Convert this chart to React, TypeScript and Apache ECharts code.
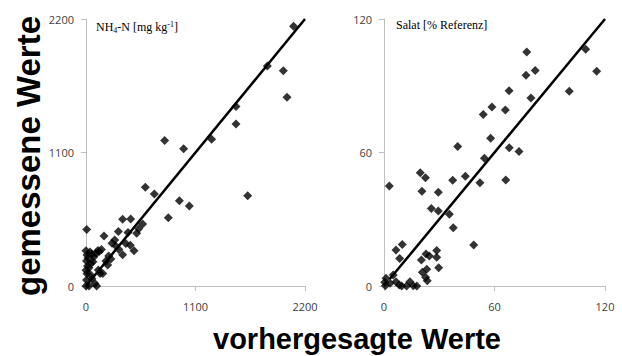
import React, { useEffect, useRef } from "react";
import * as echarts from "echarts";

// Left panel: NH4-N [mg kg-1] (predicted, measured)
const nh4Points: number[][] = [
  [2085, 2140], [1822, 1813], [1982, 1774], [2019, 1555], [1507, 1478], [1507, 1335],
  [1262, 1209], [790, 1198], [981, 1131], [686, 758], [596, 813], [938, 703],
  [1038, 659], [1624, 743], [827, 563],
  [7, 465], [368, 551], [449, 552], [569, 511], [530, 472], [509, 434], [422, 440],
  [325, 450], [181, 412], [288, 379], [261, 352], [445, 336], [482, 290], [368, 258],
  [228, 247], [131, 283], [218, 173], [141, 104], [107, 0], [30, 0],
  [0, 0], [5, 50], [10, 100], [0, 130], [15, 165], [5, 205], [20, 230], [10, 255],
  [40, 280], [60, 262], [80, 240], [100, 270], [120, 292], [70, 200], [124, 132],
  [168, 104], [40, 96], [60, 60], [90, 20], [30, 150], [50, 185], [0, 290],
  [155, 300], [200, 205], [250, 222], [330, 300], [300, 330], [400, 350]
];
const nh4Fit: number[][] = [[0, 0], [2200, 2200]];
const nh4Ticks = [0, 1100, 2200];

// Right panel: Salat [% Referenz] (predicted, measured)
const salatPoints: number[][] = [
  [77.5, 105.2], [109.5, 106.4], [115.5, 96.5], [82.1, 96.9], [77.1, 94.7],
  [100.6, 87.5], [67.9, 87.8], [79.8, 84.5], [58.6, 80.5], [53.9, 77.1], [65.9, 79.1],
  [57.9, 66.4], [68, 62.1], [73.3, 60.4], [54.5, 57.4], [40, 62.7], [44.2, 49.3],
  [37.3, 47.5], [66.1, 47.6], [19.7, 50.9], [22.5, 48.6], [2.9, 44.9], [52.1, 46.4],
  [20.6, 42.6], [29.5, 42.1], [25.7, 34.8], [29.5, 33.7], [35.5, 32.2], [37.6, 26.2],
  [48.7, 18.4], [6.5, 16.2], [9.9, 18.7], [8.5, 12.4], [20.3, 11.7], [22.8, 14.4],
  [24.6, 13.5], [28.6, 15.9], [28.6, 12.9], [29.7, 8.2], [23.2, 7.5], [20.8, 6.2],
  [22.6, 3.9], [23.5, 2.4], [5, 4.9], [1.1, 3.5], [0.4, 1.7], [0.7, 0.1], [6.5, 1.9],
  [8.3, 0.4], [9.6, 0], [14.1, 1.9], [12.3, 0], [15.9, 0.1], [17.8, 0], [3.3, 1.2]
];
const salatFit: number[][] = [[3, 3], [120, 120]];
const salatTicks = [0, 60, 120];

const yTitle = "gemessene Werte";
const xTitle = "vorhergesagte Werte";

const axisGray = "#bfbfbf";
const labelColor = "#404040";

function makeAxis(gridIndex: number, ticks: number[], isY: boolean) {
  const max = ticks[ticks.length - 1];
  return {
    type: "value",
    gridIndex,
    min: 0,
    max,
    interval: ticks[1] - ticks[0],
    splitLine: { show: false },
    axisLine: { show: true, onZero: false, lineStyle: { color: axisGray, width: 1 } },
    axisTick: { show: true, inside: false, length: 5, lineStyle: { color: axisGray } },
    axisLabel: {
      color: labelColor,
      fontFamily: "Open Sans",
      fontSize: 11,
      margin: isY ? 12 : 15,
      formatter: (v: number) => String(v),
    },
  };
}

export default function App() {
  const ref = useRef<HTMLDivElement>(null);
  useEffect(() => {
    if (!ref.current) return;
    const chart = echarts.init(ref.current, null, { renderer: "svg" });
    const scatterStyle = {
      type: "scatter",
      symbol: "diamond",
      symbolSize: 9,
      itemStyle: { color: "#000" },
    };
    const lineStyle = {
      type: "line",
      symbol: "none",
      lineStyle: { color: "#000", width: 2.5 },
      clip: false,
      z: 3,
    };
    chart.setOption({
      animation: false,
      backgroundColor: "#fff",
      grid: [
        { left: 86, top: 19, width: 219, height: 267 },
        { left: 384, top: 19, width: 221, height: 267 },
      ],
      xAxis: [makeAxis(0, nh4Ticks, false), makeAxis(1, salatTicks, false)],
      yAxis: [makeAxis(0, nh4Ticks, true), makeAxis(1, salatTicks, true)],
      series: [
        { ...scatterStyle, xAxisIndex: 0, yAxisIndex: 0, data: nh4Points },
        { ...lineStyle, xAxisIndex: 0, yAxisIndex: 0, data: nh4Fit },
        { ...scatterStyle, xAxisIndex: 1, yAxisIndex: 1, data: salatPoints },
        { ...lineStyle, xAxisIndex: 1, yAxisIndex: 1, data: salatFit },
      ],
      graphic: [
        {
          type: "text",
          x: 96,
          y: 20,
          style: {
            text: "NH{sub|4}-N [mg kg{sup|-1}]",
            fontFamily: "Liberation Serif",
            fontSize: 12,
            fill: "#000",
            rich: {
              sub: { fontSize: 8, verticalAlign: "bottom", padding: [6, 0, 0, 0], fontFamily: "Liberation Serif" },
              sup: { fontSize: 8, verticalAlign: "top", padding: [0, 0, 6, 0], fontFamily: "Liberation Serif" },
            },
          },
        },
        {
          type: "text",
          x: 396,
          y: 19,
          style: {
            text: "Salat [% Referenz]",
            fontFamily: "Liberation Serif",
            fontSize: 12,
            fill: "#000",
          },
        },
        {
          type: "text",
          x: 28,
          y: 156,
          rotation: Math.PI / 2,
          style: {
            text: yTitle,
            fontFamily: "Liberation Sans",
            fontWeight: "bold",
            fontSize: 33,
            fill: "#000",
            align: "center",
            verticalAlign: "middle",
          },
        },
        {
          type: "text",
          x: 357,
          y: 339,
          style: {
            text: xTitle,
            fontFamily: "Liberation Sans",
            fontWeight: "bold",
            fontSize: 29,
            fill: "#000",
            align: "center",
            verticalAlign: "middle",
          },
        },
      ],
    });
    return () => chart.dispose();
  }, []);
  return <div ref={ref} style={{ width: 622, height: 356, position: "absolute", left: 0, top: 0 }} />;
}
